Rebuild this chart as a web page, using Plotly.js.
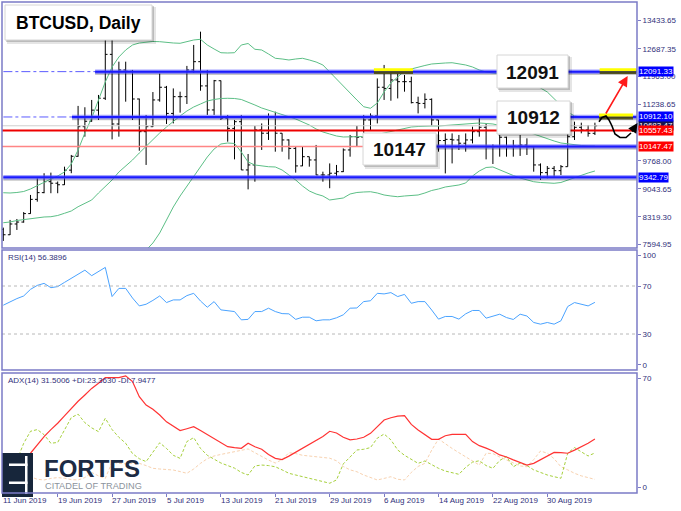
<!DOCTYPE html>
<html><head><meta charset="utf-8">
<script src="https://cdn.plot.ly/plotly-3.0.1.min.js"></script>
<style>html,body{margin:0;padding:0;background:#fff}#chart{width:681px;height:511px}</style>
</head><body><div id="chart"></div>
<script>
// ---------- DATA ----------
const tickLabels = ["11 Jun 2019","19 Jun 2019","27 Jun 2019","5 Jul 2019","13 Jul 2019","21 Jul 2019","29 Jul 2019","6 Aug 2019","14 Aug 2019","22 Aug 2019","30 Aug 2019"];
const tickBars = [0,8,16,24,32,40,48,56,64,72,80];

const open = [7990,7850,8130,8180,8400,8770,8945,9230,9190,9150,
 9530,9890,10660,10800,11090,11400,12540,10730,12135,12100,
 11380,10530,10660,11355,11685,11005,11440,11440,12135,12350,
 11720,11095,11855,10880,10615,10790,9535,9665,10575,10490,
 10920,10490,10315,10095,9640,9880,9795,9405,9405,9450,
 9490,10055,10400,10385,10835,10940,11685,11655,11875,11830,
 11830,11285,11265,11370,10835,10300,10330,10315,10230,10315,
 10530,10645,10140,10140,10385,10140,10157,10183,10140,9665,
 9465,9577,9516,9620,10400,10643,10574,10487];
const high = [8035,8235,8260,8440,8885,9320,9450,9465,9235,9620,
 9925,11200,11165,11355,11485,13750,13350,12350,12350,12135,
 11390,10965,11560,12045,11720,11655,11570,12240,12785,13130,
 12135,11875,11860,10965,10835,10965,9950,10680,10745,11005,
 11050,10490,10330,10140,10140,9880,10185,9490,9705,9665,
 10095,10445,10680,10965,11005,11915,12265,12090,12045,12005,
 11960,11440,11525,11395,10835,10485,10485,10445,10485,10660,
 10905,10745,10200,10445,10400,10315,10445,10357,10140,9705,
 9637,9637,9663,10487,10790,10764,10704,10764];
const low = [7690,7843,7975,8165,8395,8710,8930,8930,8930,9145,
 9450,9880,10400,10790,10835,11355,10330,10400,11310,10835,
 10035,9665,10650,11310,10730,10745,11025,11250,12065,11595,
 10965,10965,10835,10270,9810,9533,9030,9230,10055,10315,
 10010,10010,9810,9465,9635,9620,9400,9230,9060,9360,
 9480,9880,10140,10380,10575,10745,11355,11335,11395,11570,
 11265,11005,11135,10680,10010,9445,9705,10055,10010,10225,
 10400,9810,9690,9880,9880,9880,9900,9924,9490,9275,
 9317,9360,9403,9620,10314,10487,10400,10443];
const close = [7850,8130,8180,8400,8770,8945,9230,9190,9150,9530,
 9890,10660,10800,11090,11400,12540,10730,12135,12100,11380,
 10530,10660,11355,11685,11005,11440,11440,12135,12350,11720,
 11095,11855,10880,10615,10790,9535,9665,10575,10490,10920,
 10490,10315,10095,9640,9880,9795,9405,9405,9450,9490,
 10055,10400,10385,10835,10940,11685,11655,11875,11830,11830,
 11285,11265,11370,10835,10300,10330,10315,10230,10315,10530,
 10645,10140,10140,10385,10140,10157,10183,10140,9665,9465,
 9577,9516,9620,10400,10643,10574,10487,10683];

const bbUpper = [8943,8936,8949,8975,9040,9131,9222,9300,9378,9482,
 9690,10054,10496,10886,11354,11822,12212,12472,12654,12784,
 12836,12862,12875,12870,12849,12836,12828,12875,12914,12932,
 12784,12680,12583,12576,12583,12784,12823,12672,12654,12550,
 12438,12420,12394,12420,12438,12394,12342,12264,12082,11874,
 11699,11536,11354,11179,11138,11276,11562,11796,11959,12108,
 12160,12212,12251,12290,12308,12316,12323,12303,12264,12212,
 12134,12082,12056,12030,12004,11952,11900,11822,11744,11666,
 11562,11380,11198,11042,10938,10912,10912,10912];
const bbMiddle = [8163,8182,8221,8247,8278,8286,8312,8319,8351,8408,
 8468,8579,8676,8754,8936,9092,9274,9482,9638,9794,
 9976,10158,10340,10496,10652,10808,10938,11068,11172,11250,
 11328,11367,11393,11398,11393,11367,11302,11224,11146,11094,
 11042,10990,10919,10860,10782,10704,10600,10522,10470,10418,
 10392,10392,10392,10405,10418,10457,10496,10535,10574,10613,
 10652,10665,10678,10678,10678,10691,10704,10717,10730,10743,
 10756,10743,10730,10691,10652,10613,10574,10522,10470,10405,
 10340,10288,10236,10210,10184,10171,10158,10158];
const bbLower = [7380,7400,7420,7440,7450,7430,7400,7380,7330,7330,
 7250,7100,6860,6620,6520,6360,6340,6490,6620,6800,
 7120,7450,7636,7896,8234,8572,8858,9118,9352,9612,
 9872,10080,10210,10236,10223,10002,9742,9664,9638,9619,
 9612,9534,9404,9274,9118,8988,8910,8858,8754,8780,
 8806,8910,8949,8962,8969,8936,8884,8858,8839,8858,
 8871,8884,8936,9001,9040,9092,9118,9144,9196,9378,
 9508,9599,9612,9534,9456,9391,9326,9274,9229,9209,
 9196,9188,9209,9274,9339,9404,9456,9508];

const rsi = [54,57,59.5,61.7,67.2,70.5,72.2,68.6,69.5,73,
 76.4,80,83.2,78.6,82,85.5,61.2,68,68,60,
 53.4,54.8,58,61.7,56.2,58.4,58.4,62,63.9,57.5,
 52.3,57,50.1,49.4,48.7,41.8,42.2,48.7,48.7,51.5,
 48.7,47,46.8,42.2,44,44,41,41.8,41.8,43.5,
 46,51.5,51.7,57,57.7,63.9,63.4,64.5,61.2,63,
 55.6,57,57,50,42.4,44.6,44.6,42.4,46.8,49.6,
 49.6,43.2,44.6,46.5,43.7,42.1,46.5,45,39.6,38.2,
 39.6,38.2,41,52.9,56.2,55.1,53.4,56.39];
const adx = [19.3,17.7,18.3,20.5,23.2,28,32.9,37,40.7,45,
 49.4,53.5,57.2,61,64,67.3,67.3,67.3,68.3,65,
 56.2,51.3,48.8,45.5,41.5,39.1,36.4,37.5,38.7,36.5,
 34,31.9,29.5,27,26.5,26.1,29,27,25.5,22.5,
 20.2,19.5,21.5,23.8,26,28,30.5,33,36,35,
 32.5,31,31.5,32.5,34.8,38.5,42.6,43.9,44.8,45.1,
 40,36.8,34,31.3,31.3,33.4,34.2,34.2,34.2,30,
 27.6,26.2,24.5,22.2,21,19.3,17.8,16.3,17.3,19.5,
 21.5,23.7,23.5,23.2,25,27,29,31.5];
const plusDI = [17.3,17.3,19,29,36,37,34,29,29.5,37,
 44,46,41,38,35.8,43.6,37,32.5,29,23,
 20,18.3,24,29.3,26,22,20.2,30,32.3,26,
 22,19.8,17.5,16,14.5,12,10.5,15.8,16.3,16,
 15.3,13.5,11.5,10.5,9.5,8.6,7.5,6.5,5.7,7.6,
 17,21,25.1,25.5,26.5,32,34.4,31,25.1,22,
 19.5,17.3,18.7,16.5,14.4,12.8,12,10.9,15,18,
 18.8,16,14.4,19,21.2,15.3,17.5,16,13.5,12,
 10.5,9.5,8.6,23.2,26.5,24,21.6,23.36];
const minusDI = [12,13,15,12,9.5,8,7.6,8.5,9,8.6,
 7.8,7.6,9,12,10,8.5,18,17.3,17,17.3,
 17.3,16,14.4,14,13.8,13.4,12.5,11.5,14,17.3,
 20,21.6,22.5,23.2,24,25,25.7,23.5,21.2,19.2,
 17.5,19.5,23.5,23,22,21.5,21.2,20.8,20.3,18.8,
 15.5,13.5,12.4,10.5,9,7.6,8.5,9.5,8,7.6,
 12,15.5,17.3,25,31.5,28.5,26,23.5,21.2,18.5,
 16.3,23.2,23,21,19.3,17.5,15.8,15.3,19.5,24.5,
 23.2,20,15.3,13.5,11.5,10,9,7.95];

const priceTicks = [13433.65,12687.35,11963.00,11238.65,9768.00,9043.65,8319.30,7594.95];
const priceTickText = ["13433.65","12687.35","11963.00","11238.65","9768.00","9043.65","8319.30","7594.95"];
const rsiTickText = ["100","70","30","0"];
const adxTickText = ["70","0"];

const levelPrices = [12091.33,10912.10,10557.43,10147.47,9342.79];
const levelLabels = ["12091.33","10912.10","10557.43","10147.47","9342.79"];
const levelColors = ["#0000ff","#0000ff","#ff0000","#ff0000","#0000ff"];
const bidPrice = 10683.47, bidLabel = "10683.47";
const boxTexts = ["12091","10912","10147"];
const titleText = "BTCUSD, Daily";
const rsiTitle = "RSI(14) 56.3896";
const adxTitle = "ADX(14) 31.5006 +DI:23.3630 -DI:7.9477";

// ---------- GEOMETRY ----------
const W=681,H=511,L=2,R=44,T=2,B=18;
const PW=W-L-R, PH=H-T-B;
const fx = px => (px-L)/PW;
const fy = py => (H-B-py)/PH;
const xMin=-0.19, xMax=93.19;
const yMin=7505.65, yMax=13901.65;       // main panel 2..248 px
const pp = (yMax-yMin)/246;              // price per pixel
const xIdx = open.map((_, i) => i);
const border = '#7b7bc6', txt = '#30307a', FONT = 'Liberation Sans, Arial, sans-serif';

const traces = [
 {type:'ohlc', x:xIdx, open, high, low, close, xaxis:'x', yaxis:'y', tickwidth:0.33,
  increasing:{line:{color:'#000', width:1}}, decreasing:{line:{color:'#000', width:1}}, hoverinfo:'skip'},
 {type:'scatter', mode:'lines', x:xIdx, y:bbUpper, yaxis:'y', line:{color:'#5cbf86', width:1}, hoverinfo:'skip'},
 {type:'scatter', mode:'lines', x:xIdx, y:bbMiddle, yaxis:'y', line:{color:'#5cbf86', width:1}, hoverinfo:'skip'},
 {type:'scatter', mode:'lines', x:xIdx, y:bbLower, yaxis:'y', line:{color:'#5cbf86', width:1}, hoverinfo:'skip'},
 {type:'scatter', mode:'lines', x:xIdx, y:rsi, yaxis:'y2', line:{color:'#4aa3ff', width:1}, hoverinfo:'skip'},
 {type:'scatter', mode:'lines', x:xIdx, y:minusDI, yaxis:'y3', line:{color:'#f8d2b0', width:1, dash:'3px,2px'}, hoverinfo:'skip'},
 {type:'scatter', mode:'lines', x:xIdx, y:plusDI, yaxis:'y3', line:{color:'#a6d03c', width:1, dash:'3px,2px'}, hoverinfo:'skip'},
 {type:'scatter', mode:'lines', x:xIdx, y:adx, yaxis:'y3', line:{color:'#ff3333', width:1.2}, hoverinfo:'skip'}
];

const shapes = [];
[70,30].forEach(v => shapes.push({type:'line', xref:'paper', yref:'y2', x0:0, x1:1, y0:v, y1:v, line:{color:'#b8b8b8', width:1, dash:'dot'}}));
shapes.push({type:'line', xref:'x', yref:'y', x0:xMin, x1:xMax, y0:bidPrice, y1:bidPrice, line:{color:'#cfcfcf', width:1}});
shapes.push({type:'line', xref:'x', yref:'y', x0:xMin, x1:xMax, y0:levelPrices[3], y1:levelPrices[3], line:{color:'#ff8585', width:1.5}});
shapes.push({type:'line', xref:'x', yref:'y', x0:xMin, x1:xMax, y0:levelPrices[2], y1:levelPrices[2], line:{color:'#ee0000', width:2}});
const ddEnds = [13.5, 10.1];
[0,1].forEach(k => shapes.push({type:'line', xref:'x', yref:'y', x0:xMin+0.2, x1:ddEnds[k], y0:levelPrices[k], y1:levelPrices[k], line:{color:'#5c5cff', width:1, dash:'dashdot'}}));
function thick(price, x0){
  shapes.push({type:'line', xref:'x', yref:'y', x0, x1:xMax, y0:price-1.8*pp, y1:price-1.8*pp, line:{color:'rgba(0,0,0,0.22)', width:3}});
  shapes.push({type:'line', xref:'x', yref:'y', x0, x1:xMax, y0:price, y1:price, line:{color:'rgba(90,90,255,0.55)', width:4.5}});
  shapes.push({type:'line', xref:'x', yref:'y', x0, x1:xMax, y0:price, y1:price, line:{color:'#1a1aff', width:2}});
}
thick(levelPrices[0], 13.5);
thick(levelPrices[1], 10.1);
thick(levelPrices[3], 63.6);
thick(levelPrices[4], 0);
function yellow(price, x0, x1){
  shapes.push({type:'rect', xref:'x', yref:'y', x0, x1, y0:price+0.3*pp, y1:price+3.4*pp, fillcolor:'#ffff00', line:{width:0}});
  shapes.push({type:'rect', xref:'x', yref:'y', x0, x1, y0:price-2.4*pp, y1:price+0.3*pp, fillcolor:'#4a4a00', opacity:0.85, line:{width:0}});
}
yellow(levelPrices[0], 54.5, 60.25);
yellow(levelPrices[0], 87.7, 93.1);
yellow(levelPrices[1], 87.6, 92.6);
function box(x0,y0,x1,y1){
  shapes.push({type:'rect', xref:'paper', yref:'paper', x0:fx(x0+2), x1:fx(x1+4), y0:fy(y1+4), y1:fy(y0+2), fillcolor:'rgba(0,0,0,0.10)', line:{width:0}});
  shapes.push({type:'rect', xref:'paper', yref:'paper', x0:fx(x0+1), x1:fx(x1+2), y0:fy(y1+2), y1:fy(y0+1), fillcolor:'rgba(0,0,0,0.18)', line:{width:0}});
  shapes.push({type:'rect', xref:'paper', yref:'paper', x0:fx(x0), x1:fx(x1), y0:fy(y1), y1:fy(y0), fillcolor:'#ffffff', line:{color:'#d6d6d6', width:1}});
}
const boxes = [[497,55,568,88],[497,101,570,134],[363,133,436,165]];
box(5,5,152,40);
boxes.forEach(b => box(...b));
const wave = [[599,121.7],[602,117.5],[606,116],[609,120],[612,126],[615,134],[620,137.5],[626,137.5],[631,133]];
let wp = 'M ' + fx(wave[0][0]) + ',' + fy(wave[0][1]);
for (let k=1;k<wave.length;k++) wp += ' L ' + fx(wave[k][0]) + ',' + fy(wave[k][1]);
shapes.push({type:'path', xref:'paper', yref:'paper', path:wp, line:{color:'#000', width:1.6}});
shapes.push({type:'rect', xref:'paper', yref:'paper', x0:fx(2), x1:fx(33), y0:fy(497), y1:fy(453), fillcolor:'#17263b', line:{width:0}});
shapes.push({type:'rect', xref:'paper', yref:'paper', x0:fx(25), x1:fx(27.5), y0:fy(494), y1:fy(456), fillcolor:'#ffffff', line:{width:0}});
shapes.push({type:'rect', xref:'paper', yref:'paper', x0:fx(9), x1:fx(27.5), y0:fy(466), y1:fy(463.5), fillcolor:'#ffffff', line:{width:0}});
shapes.push({type:'rect', xref:'paper', yref:'paper', x0:fx(9), x1:fx(27.5), y0:fy(484), y1:fy(481.5), fillcolor:'#ffffff', line:{width:0}});
['y domain','y2 domain','y3 domain'].forEach(r => shapes.push({type:'rect', xref:'paper', yref:r, x0:0, x1:1, y0:0, y1:1, line:{color:border, width:1.5}}));

const annotations = [];
const pa = (px,py,text,opt) => Object.assign({xref:'paper', yref:'paper', x:fx(px), y:fy(py), text, showarrow:false, xanchor:'center', yanchor:'middle'}, opt);
annotations.push(pa(78.5,22.5,'<b>'+titleText+'</b>',{font:{family:FONT, size:17.5, color:'#000'}}));
annotations.push(pa(532.5,72,'<b>'+boxTexts[0]+'</b>',{font:{family:FONT, size:19, color:'#111'}}));
annotations.push(pa(533.5,118,'<b>'+boxTexts[1]+'</b>',{font:{family:FONT, size:19, color:'#111'}}));
annotations.push(pa(399.5,149.5,'<b>'+boxTexts[2]+'</b>',{font:{family:FONT, size:19, color:'#111'}}));
const lab = (price, text, bg) => ({xref:'paper', yref:'y', x:1, y:price, xanchor:'left', yanchor:'middle', xshift:1, text, showarrow:false, bgcolor:bg, borderpad:0, font:{family:FONT, size:8, color:'#fff'}});
annotations.push(lab(bidPrice, bidLabel, '#141450'));
levelPrices.forEach((p,k) => annotations.push(lab(p, levelLabels[k], levelColors[k])));
annotations.push(pa(6,257,rsiTitle,{xanchor:'left', font:{family:FONT, size:8, color:txt}}));
annotations.push(pa(6,380,adxTitle,{xanchor:'left', font:{family:FONT, size:8, color:txt}}));
annotations.push(pa(42,468,'<b>FORTFS</b>',{xanchor:'left', font:{family:FONT, size:24, color:'#1c2b44'}}));
annotations.push(pa(43,485.5,'CITADEL OF TRADING',{xanchor:'left', font:{family:FONT, size:9.2, color:'#8c939c'}}));
annotations.push({xref:'paper', yref:'paper', x:fx(627.7), y:fy(76), ax:-22.7, ay:39, text:'', showarrow:true, arrowhead:2, arrowsize:1.3, arrowwidth:1.6, arrowcolor:'#ff1a1a', standoff:0});
annotations.push({xref:'paper', yref:'paper', x:fx(637.5), y:fy(123), ax:-6.5, ay:10, text:'', showarrow:true, arrowhead:2, arrowsize:1.2, arrowwidth:1.6, arrowcolor:'#000', standoff:0});
// date labels, left-aligned at their tick like the terminal does
tickBars.forEach((b,k) => annotations.push({xref:'x', yref:'paper', x:b, y:fy(500.5), xanchor:'left', yanchor:'middle', xshift:-2,
  text:tickLabels[k], showarrow:false, font:{family:FONT, size:8, color:txt}}));

const axFont = {family:FONT, size:8, color:txt};
const layout = {
 width:W, height:H, margin:{l:L, r:R, t:T, b:B}, paper_bgcolor:'#fff', plot_bgcolor:'#fff', showlegend:false,
 xaxis:{range:[xMin,xMax], anchor:'y3', tickvals:tickBars, showticklabels:false,
   ticks:'outside', ticklen:3, tickcolor:border, showgrid:false, zeroline:false, showline:false,
   rangeslider:{visible:false}, fixedrange:true},
 yaxis:{domain:[fy(248),fy(2)], range:[yMin,yMax], side:'right', anchor:'x', tickvals:priceTicks, ticktext:priceTickText,
   ticks:'outside', ticklen:3, tickcolor:border, tickfont:axFont, showgrid:false, zeroline:false, fixedrange:true},
 yaxis2:{domain:[fy(370),fy(250)], range:[0,100], side:'right', anchor:'x', tickvals:[95.8,70,30,4.2], ticktext:rsiTickText,
   ticks:'outside', ticklen:3, tickcolor:border, tickfont:axFont, showgrid:false, zeroline:false, fixedrange:true},
 yaxis3:{domain:[0,fy(373)], range:[0,70], side:'right', anchor:'x', tickvals:[67,3.5], ticktext:adxTickText,
   ticks:'outside', ticklen:3, tickcolor:border, tickfont:axFont, showgrid:false, zeroline:false, fixedrange:true},
 shapes, annotations
};
Plotly.newPlot('chart', traces, layout, {staticPlot:true, displayModeBar:false});
</script>
</body></html>
